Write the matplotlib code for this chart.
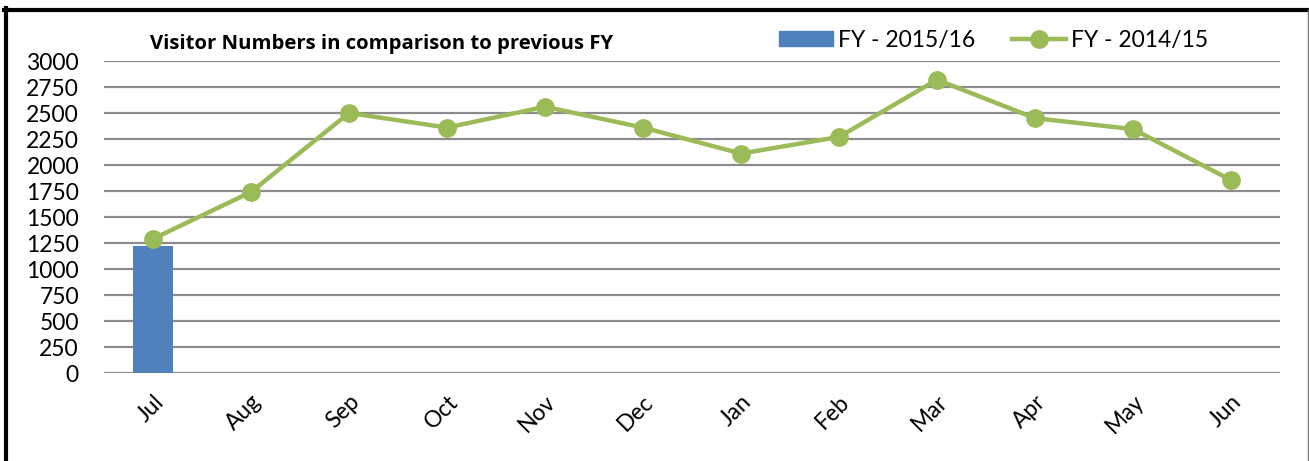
import matplotlib
matplotlib.use("Agg")
import matplotlib.pyplot as plt
from matplotlib.lines import Line2D
from matplotlib.patches import Patch

plt.rcParams['font.family'] = ['Lato', 'DejaVu Sans']

# Data
months = ['Jul', 'Aug', 'Sep', 'Oct', 'Nov', 'Dec', 'Jan', 'Feb', 'Mar', 'Apr', 'May', 'Jun']
fy_2015_16 = [1225]
fy_2014_15 = [1290, 1740, 2500, 2360, 2560, 2360, 2110, 2270, 2820, 2450, 2345, 1855]
y_ticks = list(range(0, 3001, 250))

BAR_COLOR = '#4F81BD'
LINE_COLOR = '#9BBB59'
GRID_COLOR = '#8C8C8C'

W, H = 1309, 461
fig = plt.figure(figsize=(W / 100, H / 100), dpi=100)
ax = fig.add_axes([104 / W, (H - 373) / H, (1280 - 104) / W, (373 - 61) / H])

x = list(range(len(months)))
ax.bar(x[:len(fy_2015_16)], fy_2015_16, width=0.41, color=BAR_COLOR, zorder=2)
ax.plot(x, fy_2014_15, color=LINE_COLOR, linewidth=3.2, marker='o',
        markersize=12.5, zorder=3, solid_capstyle='round')

ax.set_xlim(-0.5, len(months) - 0.5)
ax.set_ylim(0, 3000)
ax.set_yticks(y_ticks)
ax.set_yticklabels([str(v) for v in y_ticks], fontsize=16.5)
ax.yaxis.grid(True, color=GRID_COLOR, linewidth=1.6, zorder=0)
ax.set_axisbelow(True)
ax.tick_params(axis='y', length=0, pad=18)
ax.tick_params(axis='x', length=0, pad=13)
ax.set_xticks(x)
ax.set_xticklabels(months, fontsize=16.5, rotation=45, ha='right', rotation_mode='anchor')
for s in ax.spines.values():
    s.set_visible(False)

fig.text(150 / W, 1 - 44 / H, 'Visitor Numbers in comparison to previous FY',
         fontsize=14.6, fontweight='bold', va='center', ha='left',
         family=['Open Sans', 'DejaVu Sans'])

handles = [Patch(color=BAR_COLOR),
           Line2D([], [], color=LINE_COLOR, linewidth=3.2, marker='o', markersize=12.5)]
fig.legend(handles, ['FY - 2015/16', 'FY - 2014/15'], loc='center left',
           bbox_to_anchor=(779 / W, 1 - 40 / H), ncol=2, frameon=False, fontsize=16.5,
           handlelength=2.35, handleheight=0.65, handletextpad=0.22, columnspacing=1.6,
           borderaxespad=0, borderpad=0)

# frame around the chart
fig.add_artist(Line2D([6 / W, 6 / W], [0, 1 - 8 / H], color='black', linewidth=3, transform=fig.transFigure))
fig.add_artist(Line2D([4 / W, 1308 / W], [1 - 10 / H, 1 - 10 / H], color='black', linewidth=3, transform=fig.transFigure))
fig.add_artist(Line2D([1307.5 / W, 1307.5 / W], [0, 1 - 10 / H], color='#777777', linewidth=1, transform=fig.transFigure))

fig.savefig('out.png', dpi=100)
